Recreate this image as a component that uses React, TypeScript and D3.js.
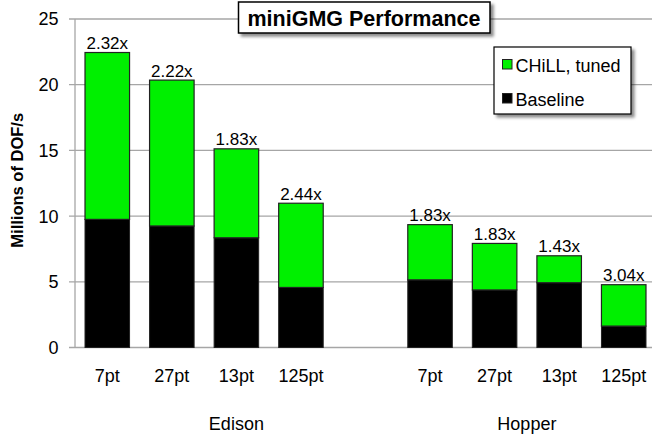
import React from "react";
import * as d3 from "d3";

const categories = ["7pt", "27pt", "13pt", "125pt"];
const machines = ["Edison", "Hopper"];
// baseline throughput (millions of DOF/s)
const edisonBaseline = [9.75, 9.25, 8.35, 4.57];
const hopperBaseline = [5.15, 4.38, 4.93, 1.63];
// CHiLL tuned throughput (top of stacked bar)
const edisonTuned = [22.45, 20.35, 15.12, 10.98];
const hopperTuned = [9.35, 7.92, 6.98, 4.78];
const edisonSpeedup = ["2.32x", "2.22x", "1.83x", "2.44x"];
const hopperSpeedup = ["1.83x", "1.83x", "1.43x", "3.04x"];
const yTicks = [0, 5, 10, 15, 20, 25];
const legendLabels = ["CHiLL, tuned", "Baseline"];
const title = "miniGMG Performance";
const yLabel = "Millions of DOF/s";

const W = 652;
const H = 436;
const FONT = "'Liberation Sans', Arial, Helvetica, sans-serif";
const GREEN = "#00f000";

type Bar = { slot: string; cat: string; base: number; tuned: number; label: string };

const bars: Bar[] = [];
categories.forEach((c, i) =>
  bars.push({ slot: "E" + i, cat: c, base: edisonBaseline[i], tuned: edisonTuned[i], label: edisonSpeedup[i] })
);
const slots = [...categories.map((_, i) => "E" + i), "gap", ...categories.map((_, i) => "H" + i)];
categories.forEach((c, i) =>
  bars.push({ slot: "H" + i, cat: c, base: hopperBaseline[i], tuned: hopperTuned[i], label: hopperSpeedup[i] })
);

export default function App() {
  const left = 75;
  const right = 656;
  const top = 19;
  const bottom = 347.5;
  const x = d3.scaleBand<string>().domain(slots).range([left, right]).paddingInner(0.31).paddingOuter(0.155);
  const y = d3.scaleLinear().domain([0, 25]).range([bottom, top]);
  const groupCenters = [
    ((x("E0") as number) + (x("gap") as number) + x.bandwidth()) / 2,
    ((x("H0") as number) + (x("H3") as number) + x.bandwidth()) / 2,
  ];

  return (
    <svg width={W} height={H} style={{ position: "absolute", left: 0, top: 0, background: "#fff" }} fontFamily={FONT}>
      <defs>
        <filter id="shadow" x="-10%" y="-10%" width="130%" height="140%">
          <feDropShadow dx="3" dy="3" stdDeviation="1.8" floodColor="#000" floodOpacity="0.45" />
        </filter>
      </defs>
      <rect x={0} y={0} width={W} height={H} fill="#fff" />
      {/* gridlines */}
      {yTicks.map((t) => (
        <g key={t}>
          <line x1={69} x2={W} y1={y(t)} y2={y(t)} stroke="#a6a6a6" strokeWidth={1.3} />
          <text x={58.5} y={y(t)} dy="0.36em" textAnchor="end" fontSize={18} fill="#000">
            {t}
          </text>
        </g>
      ))}
      <line x1={left} x2={left} y1={top} y2={bottom} stroke="#a6a6a6" strokeWidth={1.3} />
      {/* bars */}
      {bars.map((b) => {
        const bx = x(b.slot) as number;
        const bw = x.bandwidth();
        return (
          <g key={b.slot}>
            <rect x={bx} y={y(b.base)} width={bw} height={y(0) - y(b.base)} fill="#000" stroke="#222" strokeWidth={1} />
            <rect x={bx} y={y(b.tuned)} width={bw} height={y(b.base) - y(b.tuned)} fill={GREEN} stroke="#222" strokeWidth={1.2} />
            <text x={bx + bw / 2} y={y(b.tuned) - 3.5} textAnchor="middle" fontSize={17} fill="#000">
              {b.label}
            </text>
            <text x={bx + bw / 2} y={382} textAnchor="middle" fontSize={18} fill="#000">
              {b.cat}
            </text>
          </g>
        );
      })}
      {machines.map((m, i) => (
        <text key={m} x={groupCenters[i]} y={430} textAnchor="middle" fontSize={18} fill="#000">
          {m}
        </text>
      ))}
      {/* y label */}
      <text
        transform={`translate(22.5,${(top + bottom) / 2 - 3}) rotate(-90)`}
        textAnchor="middle"
        fontSize={16.5}
        fontWeight="bold"
        fill="#000"
      >
        {yLabel}
      </text>
      {/* title */}
      <rect x={238.5} y={2} width={251.5} height={31} fill="#fff" stroke="#000" strokeWidth={1.5} filter="url(#shadow)" />
      <text x={364} y={25.5} textAnchor="middle" fontSize={21.5} fontWeight="bold" fill="#000">
        {title}
      </text>
      {/* legend */}
      <rect x={494} y={47} width={137} height={67} fill="#fff" stroke="#000" strokeWidth={1.2} filter="url(#shadow)" />
      {legendLabels.map((l, i) => (
        <g key={l}>
          <rect x={502.5} y={59.5 + i * 34} width={9.5} height={9.5} fill={i === 0 ? GREEN : "#000"} stroke="#222" strokeWidth={1} />
          <text x={515.5} y={71.5 + i * 34} fontSize={18} fill="#000">
            {l}
          </text>
        </g>
      ))}
    </svg>
  );
}
